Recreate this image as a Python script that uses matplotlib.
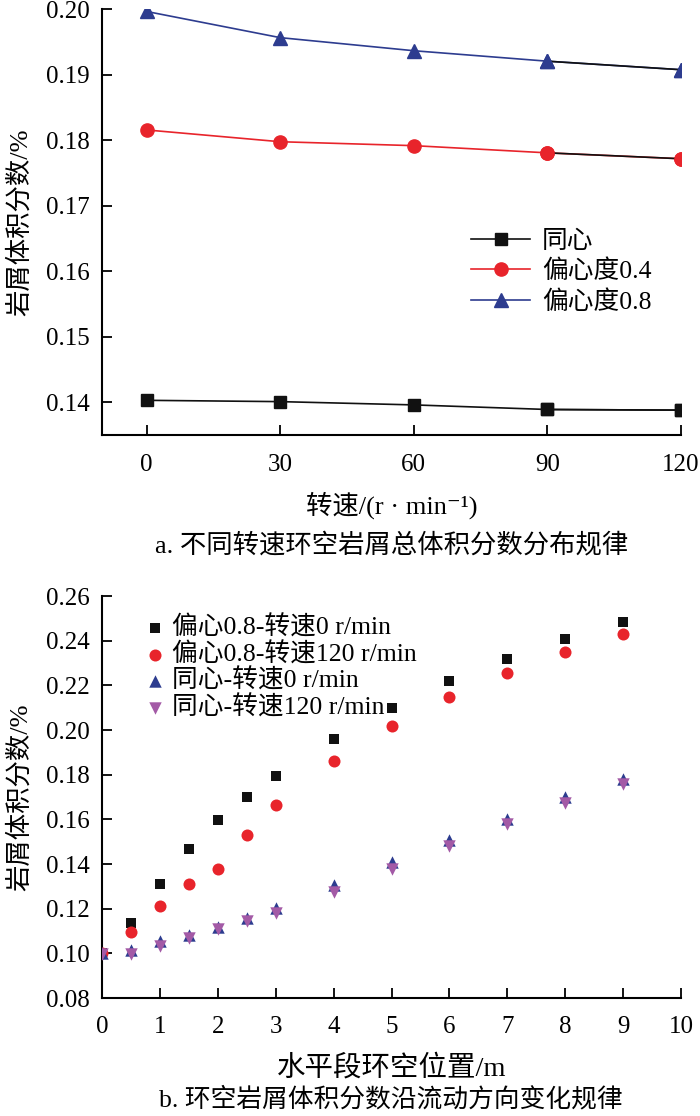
import matplotlib
matplotlib.use("Agg")
import matplotlib.pyplot as plt

plt.rcParams['font.family'] = ['Liberation Serif', 'Noto Sans CJK SC', 'DejaVu Sans']
plt.rcParams['axes.unicode_minus'] = False

# panel a: total cuttings volume fraction vs rotation speed
speed = [0, 30, 60, 90, 120]
conc_0 = [0.1403, 0.1401, 0.1396, 0.1389, 0.1388]
conc_04 = [0.1816, 0.1798, 0.1792, 0.1781, 0.1772]
conc_08 = [0.1997, 0.1957, 0.1937, 0.1921, 0.1908]
names_a = ['同心', '偏心度0.4', '偏心度0.8']

# panel b: cuttings volume fraction along the horizontal annulus
pos = [0, 0.5, 1, 1.5, 2, 2.5, 3, 4, 5, 6, 7, 8, 9]
ecc_0rpm = [0.100, 0.1134, 0.1312, 0.1467, 0.1596, 0.1698, 0.1796,
            0.1962, 0.2099, 0.2218, 0.2319, 0.2408, 0.2485]
ecc_120rpm = [0.100, 0.1095, 0.1214, 0.1310, 0.1376, 0.1531, 0.1663,
              0.1860, 0.2016, 0.2147, 0.2254, 0.2349, 0.2431]
con_0rpm = [0.1003, 0.1014, 0.1056, 0.1084, 0.1118, 0.1157, 0.1203,
            0.1307, 0.1408, 0.1506, 0.1602, 0.1700, 0.1781]
con_120rpm = [0.0998, 0.0997, 0.1033, 0.1068, 0.1110, 0.1146, 0.1180,
              0.1276, 0.1379, 0.1480, 0.1579, 0.1672, 0.1759]
names_b = ['偏心0.8-转速0 r/min', '偏心0.8-转速120 r/min',
           '同心-转速0 r/min', '同心-转速120 r/min']

BLACK = '#111111'
RED = '#e8242b'
BLUE = '#2d3c8f'
PURPLE = '#a35aa6'

fig = plt.figure(figsize=(7, 11.16), dpi=100)
ax1 = fig.add_axes([0.1457, 0.6102, 0.8273, 0.3813])
ax2 = fig.add_axes([0.1457, 0.1057, 0.8273, 0.3602])


def style(ax, xpad):
    for s in ['top', 'right']:
        ax.spines[s].set_visible(False)
    for s in ['left', 'bottom']:
        ax.spines[s].set_linewidth(1.5)
    ax.tick_params(direction='in', length=7, width=1.3, labelsize=18)
    ax.tick_params(axis='x', pad=xpad)
    ax.tick_params(axis='y', pad=9)


# ---- panel a
series_a = [(conc_0, BLACK, 's', 8), (conc_04, RED, 'o', 9.5), (conc_08, BLUE, '^', 10)]
for (vals, col, mk, ms), name in zip(series_a, names_a):
    ax1.plot(speed, vals, color=col, lw=1.2, marker=mk, ms=ms, label=name, zorder=2)
    # the last segment is black in the original figure
    ax1.plot(speed[3:], vals[3:], color=BLACK, lw=1.2, zorder=2.5)
    ax1.plot(speed[3:], vals[3:], ls='none', color=col, marker=mk, ms=ms, zorder=3)

ax1.set_xlim(-10, 120)
ax1.set_ylim(0.135, 0.20)
ax1.set_xticks(speed)
ya = [0.14, 0.15, 0.16, 0.17, 0.18, 0.19, 0.20]
ax1.set_yticks(ya)
ax1.set_yticklabels(['%.2f' % v for v in ya])
style(ax1, 14)
ax1.set_ylabel('岩屑体积分数/%', fontsize=19, labelpad=10)
ax1.set_xlabel('转速/(r · min⁻¹)', fontsize=19, labelpad=11)
ax1.legend(loc='upper left', bbox_to_anchor=(0.62, 0.505), frameon=False, fontsize=18.5,
           handlelength=2.3, handletextpad=0.45, labelspacing=0.25, borderaxespad=0)
fig.text(0.559, 1 - 545 / 1116, 'a. 不同转速环空岩屑总体积分数分布规律',
         ha='center', va='center', fontsize=19)

# ---- panel b
ax2.scatter(pos, ecc_0rpm, marker='s', s=60, color=BLACK, label=names_b[0], zorder=3, linewidths=0)
ax2.scatter(pos, ecc_120rpm, marker='o', s=75, color=RED, label=names_b[1], zorder=3, linewidths=0)
ax2.scatter(pos, con_0rpm, marker='^', s=80, color=BLUE, label=names_b[2], zorder=3, linewidths=0)
ax2.scatter(pos, con_120rpm, marker='v', s=80, color=PURPLE, label=names_b[3], zorder=3, linewidths=0)

ax2.set_xlim(0, 10)
ax2.set_ylim(0.08, 0.26)
ax2.set_xticks(range(0, 11))
yt = [0.08, 0.10, 0.12, 0.14, 0.16, 0.18, 0.20, 0.22, 0.24, 0.26]
ax2.set_yticks(yt)
ax2.set_yticklabels(['%.2f' % v for v in yt])
style(ax2, 13)
ax2.set_ylabel('岩屑体积分数/%', fontsize=19, labelpad=10)
ax2.set_xlabel('水平段环空位置/m', fontsize=20.5, labelpad=12)
ax2.legend(loc='upper left', bbox_to_anchor=(0.03, 0.978), frameon=False, fontsize=18.5,
           handletextpad=-0.35, labelspacing=0.1, borderaxespad=0, scatterpoints=1)
fig.text(0.559, 1 - 1099 / 1116, 'b. 环空岩屑体积分数沿流动方向变化规律',
         ha='center', va='center', fontsize=18.5)

fig.savefig('out.png', dpi=100)
